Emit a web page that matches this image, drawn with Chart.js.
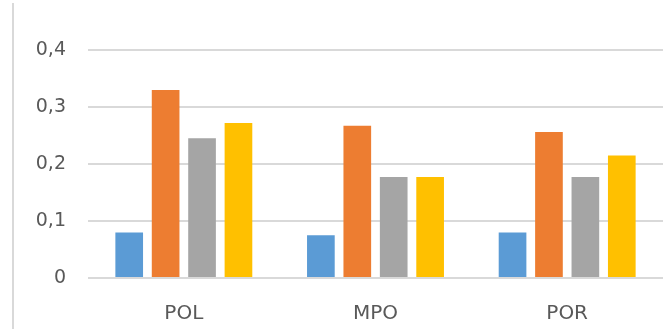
<!DOCTYPE html>
<html>
<head>
<meta charset="utf-8">
<script src="https://cdn.jsdelivr.net/npm/chart.js@4/dist/chart.umd.min.js"></script>
<style>
  html, body { margin: 0; padding: 0; background: #ffffff; }
  #wrap { position: relative; width: 663px; height: 329px; }
  #frame { position: absolute; left: 12px; top: 3px; width: 2px; height: 326px; background: #d9d9d9; }
  canvas { position: absolute; left: 0; top: 0; }
</style>
</head>
<body>
<div id="wrap">
  <canvas id="chart" width="663" height="329"></canvas>
  <div id="frame"></div>
</div>
<script>
// Categories and the four series
const categories = ['POL', 'MPO', 'POR'];
const series1 = [0.080, 0.075, 0.080];
const series2 = [0.330, 0.267, 0.256];
const series3 = [0.245, 0.177, 0.177];
const series4 = [0.272, 0.177, 0.215];

// Value axis ticks and their printed labels (decimal comma)
const yTicks = [0, 0.1, 0.2, 0.3, 0.4];
const yTickLabels = ['0', '0,1', '0,2', '0,3', '0,4'];

const seriesNames = ['Serie 1', 'Serie 2', 'Serie 3', 'Serie 4'];
const seriesColors = ['#5b9bd5', '#ed7d31', '#a5a5a5', '#ffc000'];
const seriesData = [series1, series2, series3, series4];

const textColor = '#595959';
const gridColor = '#d9d9d9';
const fontFamily = '"DejaVu Sans", sans-serif';

new Chart(document.getElementById('chart'), {
  type: 'bar',
  data: {
    labels: categories,
    datasets: seriesData.map((d, i) => ({
      label: seriesNames[i],
      data: d,
      backgroundColor: seriesColors[i],
      borderWidth: 0,
      categoryPercentage: 0.76,
      barPercentage: 0.76
    }))
  },
  options: {
    responsive: false,
    animation: false,
    devicePixelRatio: 1,
    layout: { padding: { top: 50, right: 0, bottom: 5, left: 0 } },
    plugins: {
      legend: { display: false },
      tooltip: { enabled: false }
    },
    scales: {
      x: {
        afterFit: (scale) => { scale.height = 46; },
        grid: { display: false, drawTicks: false },
        border: { display: false },
        ticks: {
          color: textColor,
          padding: 24,
          font: { family: fontFamily, size: 20 }
        }
      },
      y: {
        min: 0,
        max: 0.4,
        afterBuildTicks: (scale) => {
          scale.ticks = yTicks.map(v => ({ value: v }));
        },
        afterFit: (scale) => { scale.width = 88; },
        grid: { color: gridColor, lineWidth: 2, drawTicks: false },
        border: { display: false },
        ticks: {
          color: textColor,
          padding: 22,
          font: { family: fontFamily, size: 19 },
          callback: (value, index) => yTickLabels[index]
        }
      }
    }
  }
});
</script>
</body>
</html>
